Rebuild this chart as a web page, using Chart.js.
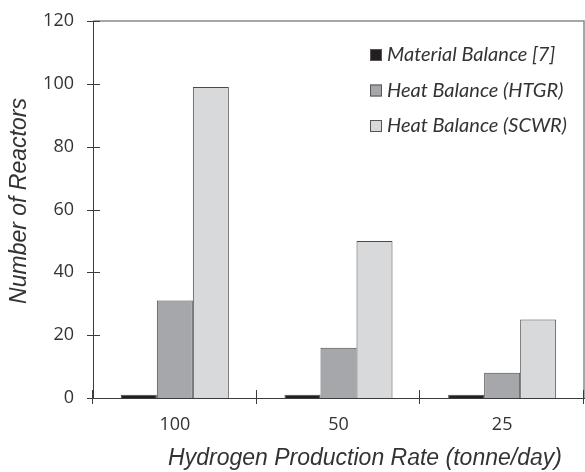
<!DOCTYPE html>
<html>
<head>
<meta charset="utf-8">
<script src="https://cdn.jsdelivr.net/npm/chart.js@4.4.1/dist/chart.umd.min.js"></script>
<style>
  html, body { margin: 0; padding: 0; background: #fff; }
  #wrap { width: 585px; height: 472px; }
</style>
</head>
<body>
<div id="wrap"><canvas id="chart" width="585" height="472"></canvas></div>
<script>
const categories = ['100', '50', '25'];
const materialBalance = [1, 1, 1];
const heatBalanceHTGR = [31, 16, 8];
const heatBalanceSCWR = [99, 50, 25];
const yTicks = [0, 20, 40, 60, 80, 100, 120];
const xTitle = 'Hydrogen Production Rate (tonne/day)';
const yTitle = 'Number of Reactors';

const textColor = '#333333';
const axisColor = '#3c3c3c';

// frame, crossing tick marks, axis titles and inside legend
const decor = {
    id: 'decor',
    afterDraw(chart) {
        const ctx = chart.ctx;
        const area = chart.chartArea;
        const y = chart.scales.y;
        ctx.save();

        ctx.strokeStyle = '#8a8a8a';
        ctx.lineWidth = 1.5;
        ctx.beginPath();
        ctx.moveTo(area.left, area.top);
        ctx.lineTo(area.right, area.top);
        ctx.lineTo(area.right, area.bottom);
        ctx.stroke();

        ctx.strokeStyle = axisColor;
        ctx.lineWidth = 1;
        ctx.beginPath();
        yTicks.forEach(v => {
            const py = Math.round(y.getPixelForValue(v)) + 0.5;
            ctx.moveTo(area.left - 6, py);
            ctx.lineTo(area.left + 7, py);
        });
        const step = (area.right - area.left) / categories.length;
        for (let i = 0; i <= categories.length; i++) {
            const px = Math.round(area.left + i * step) - 0.5;
            ctx.moveTo(px, area.bottom - 8);
            ctx.lineTo(px, area.bottom + 6);
        }
        ctx.stroke();

        ctx.fillStyle = textColor;
        ctx.font = 'italic 23px "Liberation Sans"';
        ctx.textAlign = 'center';
        ctx.textBaseline = 'middle';
        ctx.fillText(xTitle, 365, 459);
        ctx.translate(20, 201);
        ctx.rotate(-Math.PI / 2);
        ctx.fillText(yTitle, 0, 0);
        ctx.setTransform(1, 0, 0, 1, 0, 0);

        const rows = [55, 90.5, 126];
        ctx.font = 'italic 20px Lato';
        ctx.textAlign = 'left';
        chart.data.datasets.forEach((ds, i) => {
            ctx.fillStyle = ds.backgroundColor;
            ctx.fillRect(370, rows[i] - 6, 12, 12);
            ctx.strokeStyle = '#555';
            ctx.lineWidth = 1;
            ctx.strokeRect(370.5, rows[i] - 5.5, 11, 11);
            ctx.fillStyle = textColor;
            ctx.fillText(ds.label, 387, rows[i]);
        });
        ctx.restore();
    }
};

new Chart(document.getElementById('chart'), {
    type: 'bar',
    data: {
        labels: categories,
        datasets: [
            { label: 'Material Balance [7]', data: materialBalance, backgroundColor: '#231f20' },
            { label: 'Heat Balance (HTGR)', data: heatBalanceHTGR, backgroundColor: '#a6a7aa' },
            { label: 'Heat Balance (SCWR)', data: heatBalanceSCWR, backgroundColor: '#d8d9db' }
        ]
    },
    options: {
        responsive: false,
        animation: false,
        layout: { padding: { top: 21, right: 1, left: 0, bottom: 0 } },
        datasets: {
            bar: {
                categoryPercentage: 0.66,
                barPercentage: 1,
                borderColor: '#4a4a4a',
                borderWidth: 1
            }
        },
        plugins: {
            legend: { display: false },
            tooltip: { enabled: false }
        },
        scales: {
            x: {
                grid: { display: false, drawTicks: false },
                border: { display: true, color: axisColor, width: 1 },
                ticks: { color: textColor, font: { family: 'Open Sans', size: 18 }, padding: 16 },
                afterFit(scale) {
                    scale.height = 74;
                    scale.paddingLeft = 0;
                    scale.paddingRight = 0;
                }
            },
            y: {
                min: 0,
                max: 120,
                afterBuildTicks(scale) { scale.ticks = yTicks.map(v => ({ value: v })); },
                grid: { display: false, drawTicks: false },
                border: { display: true, color: axisColor, width: 1 },
                ticks: { color: textColor, font: { family: 'Open Sans', size: 18 }, padding: 19 },
                afterFit(scale) {
                    scale.width = 93;
                    scale.paddingTop = 0;
                    scale.paddingBottom = 0;
                }
            }
        }
    },
    plugins: [decor]
});
</script>
</body>
</html>
